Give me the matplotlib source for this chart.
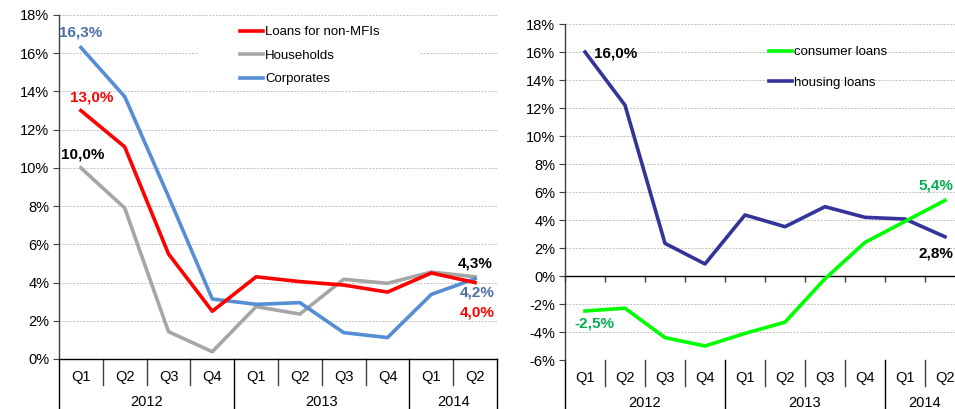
import matplotlib
matplotlib.use("Agg")
import matplotlib.pyplot as plt
from matplotlib.ticker import FuncFormatter, FixedLocator
from matplotlib.patches import Rectangle

plt.rcParams['font.family'] = ['Liberation Sans', 'DejaVu Sans']

quarters = ["Q1", "Q2", "Q3", "Q4", "Q1", "Q2", "Q3", "Q4", "Q1", "Q2"]
years = ["2012", "2013", "2014"]
year_spans = [(0, 3), (4, 7), (8, 9)]

# Left chart
loans_nonmfi = [13.0, 11.1, 5.5, 2.5, 4.3, 4.05, 3.87, 3.5, 4.5, 4.0]
households = [10.0, 7.9, 1.43, 0.38, 2.74, 2.35, 4.17, 3.96, 4.55, 4.3]
corporates = [16.3, 13.73, 8.5, 3.14, 2.86, 2.95, 1.38, 1.12, 3.38, 4.2]

# Right chart
consumer_loans = [-2.5, -2.3, -4.4, -5.0, -4.1, -3.3, -0.2, 2.4, 3.9, 5.4]
housing_loans = [16.0, 12.2, 2.33, 0.86, 4.36, 3.52, 4.95, 4.19, 4.07, 2.8]

RED = "#FF0000"
GRAY = "#A6A6A6"
BLUE = "#558ED5"
DBLUE = "#4A6FA5"
NAVY = "#333399"
LIME = "#00FF00"
GREEN = "#00B050"

W, H = 955, 409
fig = plt.figure(figsize=(W / 100, H / 100), dpi=100)

def setup_axes(ax, ymin, ymax):
    ax.set_xlim(-0.5, 9.5)
    ax.set_ylim(ymin, ymax)
    ax.set_axisbelow(True)
    ax.yaxis.set_major_locator(FixedLocator(list(range(ymin, ymax + 1, 2))))
    ax.yaxis.set_major_formatter(FuncFormatter(lambda v, p: f"{v:.0f}%"))
    ax.tick_params(axis='y', direction='out', length=4, width=0.8,
                   color='#404040', labelsize=10.5, pad=3)
    ax.grid(axis='y', color='#C0C0C0', linestyle=(0, (2, 1.5)), linewidth=0.7)
    for s in ['top', 'right']:
        ax.spines[s].set_visible(False)
    ax.spines['left'].set_color('#404040')
    ax.spines['left'].set_linewidth(1.0)

def category_axis(ax, axis_h_px):
    tr = ax.get_xaxis_transform()
    sep_end = -26 / axis_h_px
    q_y = -18 / axis_h_px
    yr_y = -43 / axis_h_px
    for i, q in enumerate(quarters):
        ax.text(i, q_y, q, transform=tr, ha='center', va='center', fontsize=10.5)
    boundaries_year = set()
    for (a, b) in year_spans:
        boundaries_year.add(a - 0.5)
        boundaries_year.add(b + 0.5)
    for k in range(11):
        xb = k - 0.5
        if xb in boundaries_year:
            ax.plot([xb, xb], [0, -0.2], transform=tr, color='#000000', lw=1.0,
                    clip_on=False)
        else:
            ax.plot([xb, xb], [0, sep_end], transform=tr, color='#404040', lw=1.0,
                    clip_on=False)
    for (a, b), yl in zip(year_spans, years):
        ax.text((a + b) / 2, yr_y, yl, transform=tr, ha='center', va='center',
                fontsize=10.5)

# ---------------- Left chart ----------------
axL = fig.add_axes([59 / W, (H - 359) / H, 438 / W, 344 / H])
setup_axes(axL, 0, 18)
axL.spines['bottom'].set_color('#000000')
axL.spines['bottom'].set_linewidth(1.0)
axL.set_xticks([])
category_axis(axL, 344)

x = list(range(len(quarters)))
lw = 2.6
axL.add_patch(Rectangle((0.317, 0.79), 0.507, 0.20, transform=axL.transAxes,
                        facecolor='white', edgecolor='none', zorder=1))
axL.plot(x, loans_nonmfi, color=RED, lw=lw, label="Loans for non-MFIs", zorder=3)
axL.plot(x, households, color=GRAY, lw=lw, label="Households", zorder=2)
axL.plot(x, corporates, color=BLUE, lw=lw, label="Corporates", zorder=2.5)

lbl = dict(fontsize=11, fontweight='bold', ha='center', va='center')
axL.text(0.0, 17.1, "16,3%", color=DBLUE, **lbl)
axL.text(0.25, 13.7, "13,0%", color=RED, **lbl)
axL.text(0.03, 10.7, "10,0%", color='#000000', **lbl)
axL.text(9.0, 5.0, "4,3%", color='#000000', **lbl)
axL.text(9.05, 3.5, "4,2%", color=DBLUE, **lbl)
axL.text(9.05, 2.45, "4,0%", color=RED, **lbl)

legL = axL.legend(loc='upper left', bbox_to_anchor=(240 / W, 1 - 26 / H),
                  bbox_transform=fig.transFigure, frameon=False, fontsize=9.5,
                  handlelength=1.75, handletextpad=0.15, labelspacing=0.85,
                  borderpad=0, borderaxespad=0)

# ---------------- Right chart ----------------
axR = fig.add_axes([565 / W, (H - 360) / H, 400 / W, 336 / H])
setup_axes(axR, -6, 18)
axR.spines['bottom'].set_position(('data', 0))
axR.spines['bottom'].set_color('#000000')
axR.spines['bottom'].set_linewidth(1.0)
axR.set_xticks([k - 0.5 for k in range(11)])
axR.set_xticklabels([])
axR.tick_params(axis='x', direction='out', length=4, width=1.0, color='#404040')
category_axis(axR, 336)

axR.plot(x, consumer_loans, color=LIME, lw=lw, label="consumer loans", zorder=3)
axR.plot(x, housing_loans, color=NAVY, lw=lw, label="housing loans", zorder=2.5)

axR.text(0.76, 15.9, "16,0%", color='#000000', **lbl)
axR.text(0.23, -3.36, "-2,5%", color=GREEN, **lbl)
axR.text(8.78, 6.43, "5,4%", color=GREEN, **lbl)
axR.text(8.78, 1.64, "2,8%", color='#000000', **lbl)

legR = axR.legend(loc='upper left', bbox_to_anchor=(769 / W, 1 - 46 / H),
                  bbox_transform=fig.transFigure, frameon=False, fontsize=9.5,
                  handlelength=1.75, handletextpad=0.15, labelspacing=1.4,
                  borderpad=0, borderaxespad=0)

fig.savefig("out.png", dpi=100)
